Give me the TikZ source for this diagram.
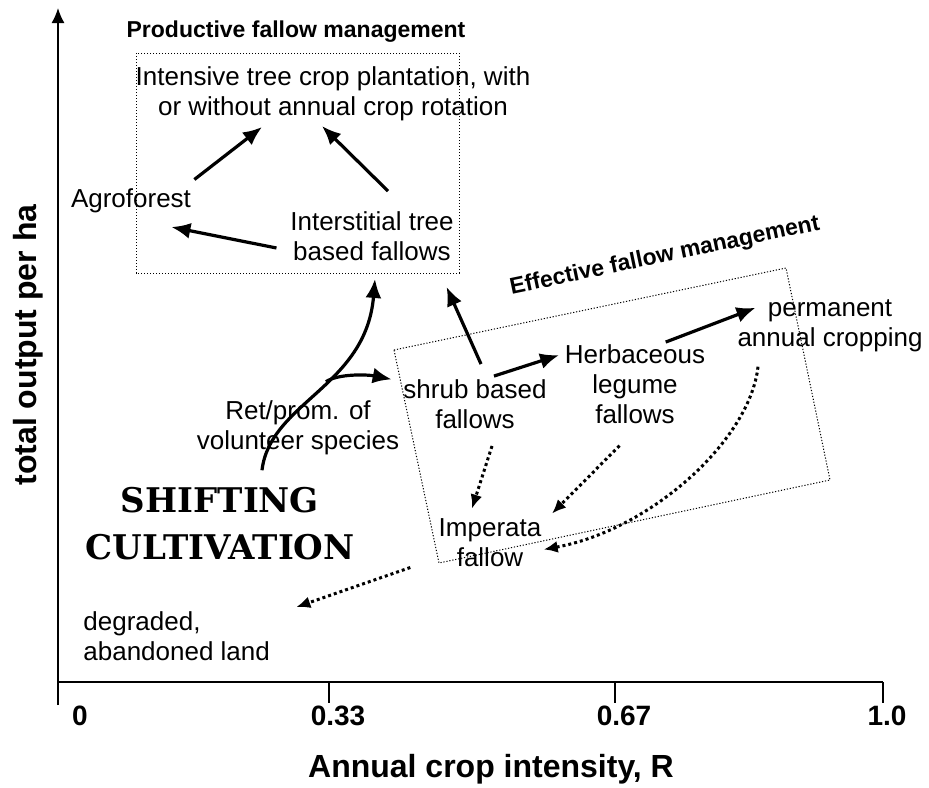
\documentclass[tikz,border=0pt]{standalone}
\usepackage{fontspec}
\setmainfont{Liberation Sans}
\newfontfamily\slabfont{DejaVu Serif}
\usetikzlibrary{arrows.meta}

\tikzset{
	lbl/.style={align=center, inner sep=1pt, font=\fontsize{13}{15}\selectfont},
	zonetitle/.style={anchor=base, inner sep=0pt, font=\bfseries\fontsize{11.5}{13}\selectfont},
	axislabel/.style={anchor=base, inner sep=0pt, font=\bfseries\fontsize{16}{18}\selectfont},
	ticklabel/.style={anchor=base, inner sep=0pt, font=\bfseries\fontsize{14}{16}\selectfont},
	zone/.style={line width=0.5pt, dash pattern=on 0.6pt off 0.9pt},
	arr/.style={line width=1.6pt, -{Latex[length=9.5pt, width=8pt]}},
	dotarr/.style={line width=1.5pt, dash pattern=on 1.5pt off 1.5pt, -{Latex[length=7pt, width=6pt]}}
}

\begin{document}
\begin{tikzpicture}[x=0.5pt, y=-0.5pt]
				\useasboundingbox (0,0) rectangle (929,787);
				% 1. axes
				\coordinate (origin) at (58,682);
				\draw[line width=0.75pt, -{Latex[length=7.5pt, width=6.5pt]}] (58,705) -- (58,8);
				\draw[line width=0.75pt] (origin) -- (883,682);
				\foreach \tx in {329,615,883}
					\draw[line width=0.75pt] (\tx,682) -- (\tx,703);
				\node[ticklabel] (t0) at (80,725) {0};
				\node[ticklabel] (t33) at (338,725) {0.33};
				\node[ticklabel] (t67) at (624,725) {0.67};
				\node[ticklabel] (t100) at (887,725) {1.0};
				\node[axislabel] (xlab) at (491,777) {Annual crop intensity, R};
				\node[axislabel, rotate=90] (ylab) at (36,345) {total output per ha};
				
				% 2. management zones
				\draw[zone] (136,53) rectangle (459,273);
				\node[zonetitle] (prodtitle) at (296,37) {Productive fallow management};
				\draw[zone] (394,350) -- (786,268) -- (830,480) -- (439,563) -- cycle;
				\node[zonetitle, rotate=11.8] (efftitle) at (666,262) {Effective fallow management};
				
				% 3. stages
				\node[lbl] (intensive) at (333,94) {Intensive tree crop plantation, with\\or without annual crop rotation};
				\node[lbl] (agro) at (131,201) {Agroforest};
				\node[lbl] (inter) at (372,236) {Interstitial tree\\based fallows};
				\node[lbl] (shrub) at (475,404) {shrub based\\fallows};
				\node[lbl] (herb) at (635,384) {Herbaceous\\legume\\fallows};
				\node[lbl] (perm) at (830,326) {permanent\\annual cropping};
				\node[lbl] (imperata) at (490,543) {Imperata\\fallow};
				\node[lbl] (retprom) at (298,428) {Ret/prom. of\\volunteer species};
				\node[lbl, align=left, anchor=west] (degraded) at (81,636) {degraded,\\abandoned land};
				\node[align=center, inner sep=1pt, font=\slabfont\bfseries\fontsize{17}{23.5}\selectfont] (shifting) at (220,524) {SHIFTING\\CULTIVATION};
				
				% 4. intensification paths
				\draw[arr] ([xshift=0.5pt, yshift=3.5pt]agro.north east) -- ([xshift=-35.5pt, yshift=-1.75pt]intensive.south);
				\draw[arr] ([xshift=8pt, yshift=9pt]inter.north) -- ([xshift=-5.5pt, yshift=-1.25pt]intensive.south);
				\draw[arr] ([xshift=-5.75pt, yshift=-6pt]inter.west) -- ([xshift=-11pt, yshift=-5.75pt]agro.south east);
				\draw[arr] ([xshift=21pt, yshift=7.5pt]shifting.north) .. controls +(8,-68) and +(-9,108) .. coordinate[pos=0.55] (fork) ([xshift=1.5pt, yshift=-8pt]inter.south);
				\draw[arr] (fork) .. controls +(12,-8) and +(-25,-5) .. ([xshift=-4.7pt, yshift=-1.15pt]shrub.north west);
				\draw[arr] ([xshift=9.5pt, yshift=0.5pt]shrub.north) -- ([xshift=-1.7pt, yshift=-6.5pt]herb.north west);
				\draw[arr] ([xshift=15.35pt]herb.north) -- ([xshift=10.2pt, yshift=-5.15pt]perm.north west);
				\draw[arr] ([xshift=3pt, yshift=6.5pt]shrub.north) -- ([xshift=-4.75pt, yshift=-12pt]inter.south east);
				
				% 5. degradation paths
				\draw[dotarr] ([xshift=8.5pt, yshift=-7.5pt]shrub.south) -- ([xshift=-9pt, yshift=4pt]imperata.north);
				\draw[dotarr] ([xshift=-7.7pt, yshift=-9.85pt]herb.south) -- ([xshift=4.15pt, yshift=1.5pt]imperata.north east);
				\draw[dotarr] ([xshift=-36pt, yshift=-6.1pt]perm.south) .. controls +(-8,73) and +(108,-20) .. ([yshift=-3.25pt]imperata.east);
				\draw[dotarr] ([xshift=-13pt, yshift=1pt]imperata.south west) -- ([xshift=12pt, yshift=1pt]degraded.north east);
\end{tikzpicture}
\end{document}
